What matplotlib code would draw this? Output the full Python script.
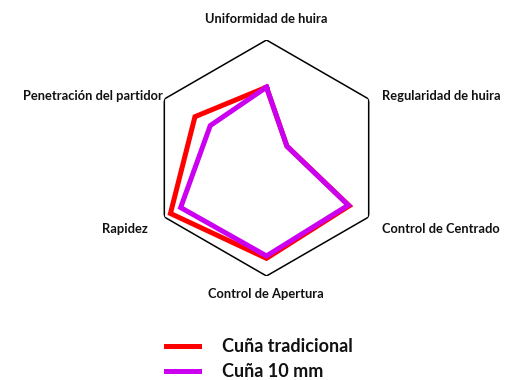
import numpy as np
import matplotlib
matplotlib.use("Agg")
import matplotlib.pyplot as plt

plt.rcParams['font.family'] = ['Lato', 'DejaVu Sans']

# data (scale 0-10)
categories = ["Uniformidad de huira", "Regularidad de huira", "Control de Centrado",
              "Control de Apertura", "Rapidez", "Penetración del partidor"]
tradicional = [6.0, 2.0, 8.1, 8.5, 9.4, 7.0]
cuna_10mm = [6.0, 2.0, 8.0, 8.3, 8.4, 5.5]
series_names = ["Cuña tradicional", "Cuña 10 mm"]
series_colors = ["#ff0000", "#cc00f0"]
r_max = 10

W, H = 506, 380
fig = plt.figure(figsize=(W / 100, H / 100), dpi=100)

# polar axes centred on the hexagon
cx, cy, R = 266.5, 158, 118
ax = fig.add_axes([(cx - R) / W, (H - cy - R) / H, 2 * R / W, 2 * R / H], polar=True)
ax.set_theta_offset(np.pi / 2)
ax.set_theta_direction(-1)
ax.set_ylim(0, r_max)
ax.axis('off')

n = len(categories)
theta = np.linspace(0, 2 * np.pi, n, endpoint=False)
theta_c = np.append(theta, theta[0])

# outer hexagon
ax.plot(theta_c, [r_max] * (n + 1), color='black', lw=1.1, solid_joinstyle='miter', zorder=1)

handles = []
for vals, name, col in zip([tradicional, cuna_10mm], series_names, series_colors):
    v = np.append(vals, vals[0])
    h, = ax.plot(theta_c, v, color=col, lw=3.6, solid_joinstyle='miter', label=name, zorder=2)
    handles.append(h)

# category labels
label_pos = [(266, 19, 'center'), (382, 96, 'left'), (382, 229, 'left'),
             (266, 294, 'center'), (148, 229, 'right'), (163, 96, 'right')]
for lab, (x, y, ha) in zip(categories, label_pos):
    fig.text(x / W, 1 - y / H, lab, ha=ha, va='center', fontsize=9.3, fontweight='bold',
             color='#111111')

leg = fig.legend(handles=handles, loc='center left', bbox_to_anchor=(150 / W, 1 - 359 / H),
                 frameon=False, handlelength=1.8, handletextpad=1.3, labelspacing=0.45,
                 prop={'size': 13, 'weight': 'bold'})
for t in leg.get_texts():
    t.set_color('#111111')

fig.savefig("out.png", dpi=100)
